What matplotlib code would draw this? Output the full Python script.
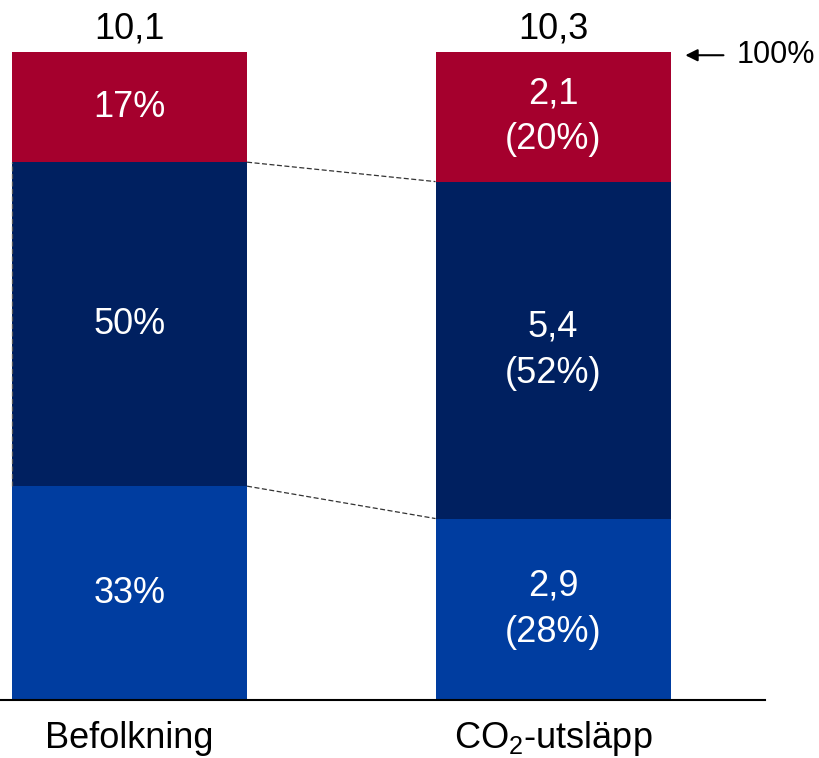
import matplotlib
matplotlib.use('Agg')
import matplotlib.pyplot as plt
import numpy as np

plt.rcParams['font.family'] = ['Liberation Sans', 'DejaVu Sans']
plt.rcParams['mathtext.fontset'] = 'custom'
plt.rcParams['mathtext.rm'] = 'Liberation Sans'
plt.rcParams['mathtext.default'] = 'rm'

# data
kategorier = ['Befolkning', 'CO$_2$-utsläpp']
totaler = ['10,1', '10,3']
# andelar i procent, nerifrån och upp
andel_blue = [33, 28]
andel_navy = [50, 52]
andel_red = [17, 20]
# etiketter i segmenten
etikett_blue = ['33%', '2,9\n(28%)']
etikett_navy = ['50%', '5,4\n(52%)']
etikett_red = ['17%', '2,1\n(20%)']

farger = ['#003DA0', '#002060', '#A5002D']

W, H = 819, 758
fig = plt.figure(figsize=(W/100, H/100), dpi=100)
ax = fig.add_axes([0, 58/H, 765/W, 648/H])

x = np.arange(len(kategorier))
bredd = 0.555
fs = 26

botten = np.zeros(len(x))
for vals, labels, c in [(andel_blue, etikett_blue, farger[0]),
                        (andel_navy, etikett_navy, farger[1]),
                        (andel_red, etikett_red, farger[2])]:
    vals = np.array(vals, dtype=float)
    ax.bar(x, vals, bredd, bottom=botten, color=c, linewidth=0)
    for xi, b, v, lab in zip(x, botten, vals, labels):
        ax.text(xi, b + v/2, lab, ha='center', va='center', color='white',
                fontsize=fs, linespacing=1.42)
    botten += vals

# streckade linjer mellan staplarna
for g in [np.array(andel_blue), np.array(andel_blue) + np.array(andel_navy)]:
    ax.plot([x[0] + bredd/2, x[1] - bredd/2], [g[0], g[1]], ls=(0, (4, 2)),
            color='#333333', lw=0.9)
# streckad kant på vänstra stapelns mittsegment
ax.plot([x[0] - bredd/2]*2, [andel_blue[0], andel_blue[0] + andel_navy[0]],
        ls=(0, (4, 2)), color='#555555', lw=0.9, clip_on=False)

# totaler ovanför
for xi, t in zip(x, totaler):
    ax.text(xi, 100 + 3.6, t, ha='center', va='center', fontsize=fs)

# kategorietiketter
for xi, k in zip(x, kategorier):
    ax.text(xi, -5.9, k, ha='center', va='center', fontsize=fs)

# pil vid 100%
ax.annotate('', xy=(x[1] + bredd/2 + 0.035, 99.5), xytext=(x[1] + bredd/2 + 0.125, 99.5),
            arrowprops=dict(arrowstyle='-|>', color='black', lw=1.5,
                            mutation_scale=18, shrinkA=0, shrinkB=0),
            annotation_clip=False)
ax.text(x[1] + bredd/2 + 0.155, 99.5, '100%', ha='left', va='center',
        fontsize=22, clip_on=False)

ax.set_xlim(-0.306, 1.5006)
ax.set_ylim(0, 100)
for s in ['top', 'right', 'left']:
    ax.spines[s].set_visible(False)
ax.spines['bottom'].set_linewidth(1.5)
ax.set_xticks([])
ax.set_yticks([])

fig.savefig('out.png', dpi=100)
